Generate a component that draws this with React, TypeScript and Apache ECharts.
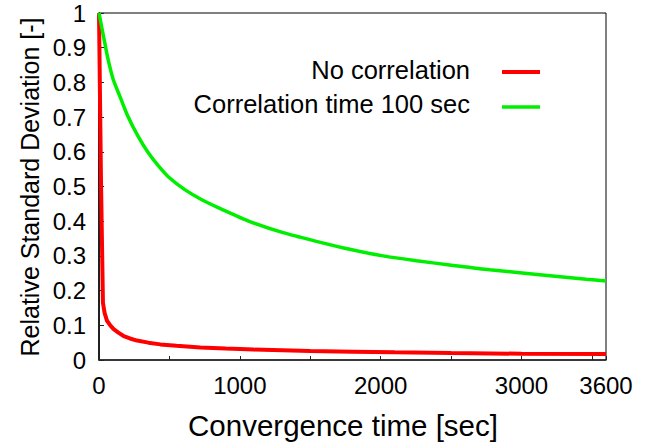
import React, { useEffect, useRef } from "react";
import * as echarts from "echarts";

const xTickLabels = [0, 1000, 2000, 3000, 3600];
const yTicks = [0, 0.1, 0.2, 0.3, 0.4, 0.5, 0.6, 0.7, 0.8, 0.9, 1];

const seriesNames = ["No correlation", "Correlation time 100 sec"];

const noCorrTime = [0, 14, 28, 40, 57, 80, 104, 140, 175, 220, 270, 350, 436, 550, 720, 900, 1100, 1500, 1800, 2100, 2500, 3000, 3600];
const noCorrValue = [1, 0.52, 0.165, 0.135, 0.113, 0.1, 0.089, 0.078, 0.069, 0.062, 0.056, 0.05, 0.045, 0.041, 0.036, 0.033, 0.03, 0.026, 0.024, 0.022, 0.02, 0.018, 0.017];

const corrTime = [0, 40, 64, 100, 147, 200, 277, 350, 419, 500, 609, 730, 869, 1071, 1307, 1544, 1780, 2017, 2254, 2490, 2774, 3129, 3460, 3600];
const corrValue = [1, 0.916, 0.867, 0.81, 0.761, 0.707, 0.645, 0.597, 0.561, 0.525, 0.491, 0.462, 0.435, 0.399, 0.367, 0.342, 0.319, 0.3, 0.286, 0.274, 0.26, 0.246, 0.233, 0.228];

const colors = ["#ff0000", "#00ee00"];
const FONT = "Liberation Sans, Arial, Helvetica, sans-serif";

export default function App() {
  const ref = useRef<HTMLDivElement>(null);
  useEffect(() => {
    if (!ref.current) return;
    const chart = echarts.init(ref.current, null, { renderer: "svg" });
    const zip = (xs: number[], ys: number[]) => xs.map((x, i) => [x, ys[i]]);
    chart.setOption({
      animation: false,
      backgroundColor: "#fff",
      grid: {
        left: 99,
        right: 47,
        top: 13,
        bottom: 84,
        show: true,
        borderColor: "#000",
        borderWidth: 1,
      },
      xAxis: {
        type: "value",
        min: 0,
        max: 3600,
        interval: 500,
        axisLine: { show: true, lineStyle: { color: "#222", width: 1.5 } },
        axisTick: { show: true, inside: true, length: 4, lineStyle: { color: "#222" } },
        splitLine: { show: false },
        axisLabel: {
          margin: 13,
          fontSize: 24,
          fontFamily: FONT,
          color: "#000",
          formatter: (v: number) => (xTickLabels.indexOf(v) >= 0 ? String(v) : ""),
        },
      },
      yAxis: {
        type: "value",
        min: 0,
        max: 1,
        interval: 0.1,
        axisLine: { show: true, lineStyle: { color: "#000", width: 1.5 } },
        axisTick: { show: true, inside: true, length: 5, lineStyle: { color: "#222" } },
        splitLine: { show: false },
        axisLabel: {
          margin: 13,
          fontSize: 24,
          fontFamily: FONT,
          color: "#000",
          formatter: (v: number) => {
            const t = yTicks.find((y) => Math.abs(y - v) < 1e-6);
            return t === undefined ? "" : String(+t.toFixed(1));
          },
        },
      },
      series: [
        {
          name: seriesNames[0],
          type: "line",
          data: zip(noCorrTime, noCorrValue),
          showSymbol: false,
          smooth: false,
          lineStyle: { color: colors[0], width: 4 },
          itemStyle: { color: colors[0] },
          z: 3,
        },
        {
          name: seriesNames[1],
          type: "line",
          data: zip(corrTime, corrValue),
          showSymbol: false,
          smooth: 0.25,
          lineStyle: { color: colors[1], width: 3.5 },
          itemStyle: { color: colors[1] },
          z: 4,
        },
      ],
      graphic: [
        {
          type: "text",
          x: 30,
          y: 187,
          rotation: Math.PI / 2,
          style: {
            text: "Relative Standard Deviation [-]",
            fontSize: 25,
            fontFamily: FONT,
            fill: "#000",
            textAlign: "center",
            textVerticalAlign: "middle",
          },
        },
        {
          type: "text",
          x: 343,
          y: 425,
          style: {
            text: "Convergence time [sec]",
            fontSize: 29.5,
            fontFamily: FONT,
            fill: "#000",
            textAlign: "center",
            textVerticalAlign: "middle",
          },
        },
        {
          type: "text",
          x: 470,
          y: 70,
          style: {
            text: seriesNames[0],
            fontSize: 25.5,
            fontFamily: FONT,
            fill: "#000",
            textAlign: "right",
            textVerticalAlign: "middle",
          },
        },
        {
          type: "line",
          shape: { x1: 502, y1: 72, x2: 540, y2: 72 },
          style: { stroke: colors[0], lineWidth: 4 },
        },
        {
          type: "text",
          x: 470,
          y: 104,
          style: {
            text: seriesNames[1],
            fontSize: 25.5,
            fontFamily: FONT,
            fill: "#000",
            textAlign: "right",
            textVerticalAlign: "middle",
          },
        },
        {
          type: "line",
          shape: { x1: 502, y1: 107, x2: 540, y2: 107 },
          style: { stroke: colors[1], lineWidth: 3.5 },
        },
      ],
    });
    return () => chart.dispose();
  }, []);
  return <div ref={ref} style={{ width: 653, height: 444, position: "absolute", left: 0, top: 0 }} />;
}
